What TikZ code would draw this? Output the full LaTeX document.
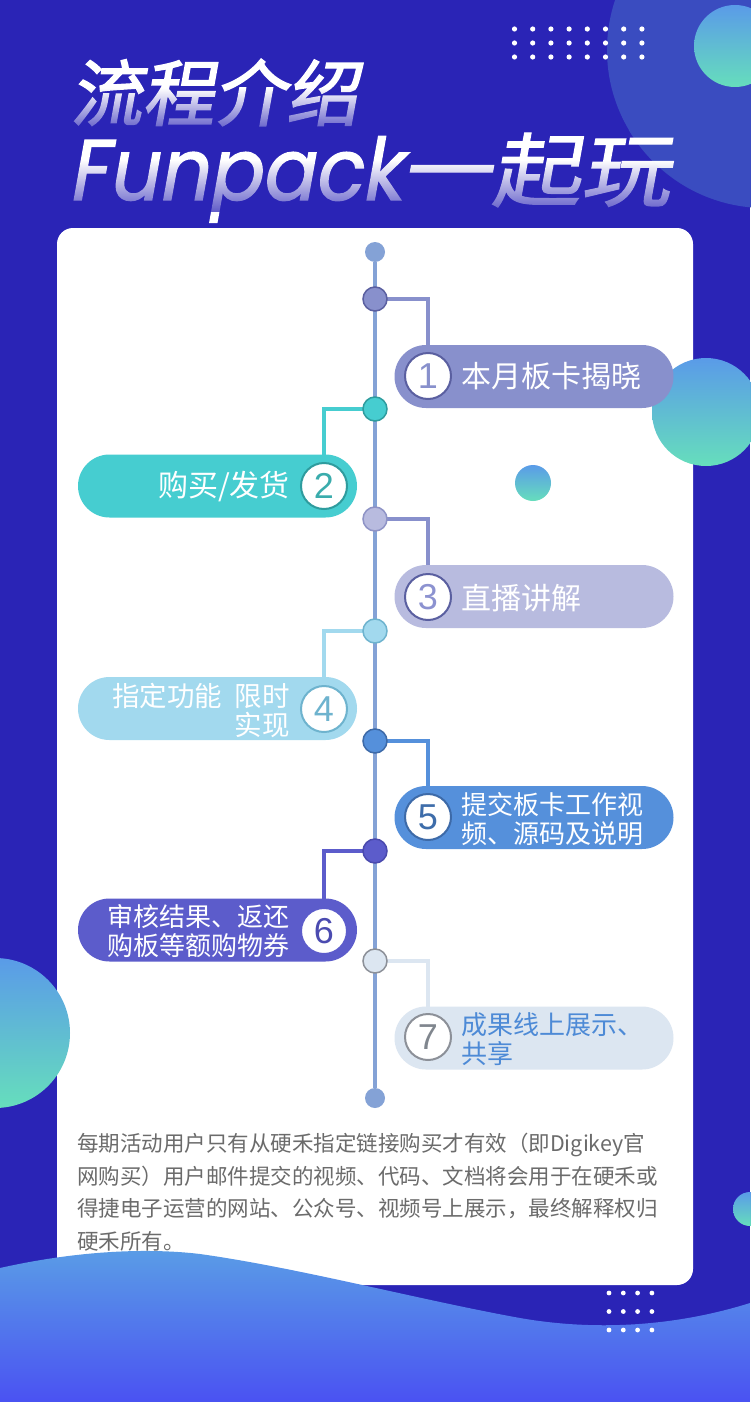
\documentclass[tikz,border=0pt]{standalone}
\usepackage{fontspec}
\usetikzlibrary{fadings}
\newfontfamily\cjk{Noto Sans CJK SC}
\newfontfamily\titlecjk{Noto Sans CJK SC}[FakeSlant=0.18, FakeBold=2]
\newfontfamily\titlecjkwide{Noto Sans CJK SC}[FakeSlant=0.18, FakeBold=1.5, FakeStretch=1.12]
\newfontfamily\titlelat{Poppins}[FakeSlant=0.18, FakeBold=1.5, FakeStretch=0.91]
\newfontfamily\numfont{Liberation Sans}
\definecolor{bg}{HTML}{2A24B6}
\definecolor{bigc}{HTML}{3A4CC0}
\definecolor{gA}{HTML}{5A9BE8}
\definecolor{gB}{HTML}{66DEBC}
\definecolor{waveA}{HTML}{5A9DE6}
\definecolor{waveB}{HTML}{4A52F2}
\definecolor{tl}{HTML}{84A2D6}
\definecolor{ftgray}{HTML}{6B6B6B}
% pill colours
\definecolor{pa}{HTML}{8890CC}
\definecolor{pb}{HTML}{46CDD0}
\definecolor{pc}{HTML}{B8BBDF}
\definecolor{pd}{HTML}{A2D9EE}
\definecolor{pe}{HTML}{5590DB}
\definecolor{pf}{HTML}{5C5CCB}
\definecolor{pg}{HTML}{DCE6F1}
% borders
\definecolor{ba}{HTML}{5A5FA0}
\definecolor{bb}{HTML}{2E9C9E}
\definecolor{bc}{HTML}{8E93C6}
\definecolor{bd}{HTML}{6EB3CE}
\definecolor{be}{HTML}{3D6AA8}
\definecolor{bf}{HTML}{4A4AAE}
\definecolor{bgg}{HTML}{8C9098}
% numbers
\definecolor{na}{HTML}{8890CC}
\definecolor{nb}{HTML}{3AACAC}
\definecolor{nc}{HTML}{8C92D0}
\definecolor{nd}{HTML}{6EB3CE}
\definecolor{ne}{HTML}{3E6DAA}
\definecolor{nf}{HTML}{4B4BB0}
\definecolor{ng}{HTML}{80868E}
\definecolor{tseven}{HTML}{4D8AD6}
\begin{document}
\begin{tikzpicture}[x=1pt,y=-1pt,
  linedot/.style={circle, inner sep=0, minimum size=24, line width=1.5},
  enddot/.style={circle, inner sep=0, minimum size=20, fill=tl},
  pillbox/.style={rectangle, rounded corners=31.5, minimum width=279, minimum height=63, inner sep=0},
  numc/.style={circle, fill=white, inner sep=0, minimum size=46, line width=2, font=\numfont\fontsize{36}{36}\selectfont},
  ptext/.style={inner sep=0, text=white, font=\cjk\fontsize{30}{32}\selectfont},
  ptexttwo/.style={inner sep=0, text=white, font=\cjk\fontsize{26}{28.5}\selectfont},
  conn/.style={line width=4},
  tline/.style={line width=4, draw=tl},
  foot/.style={anchor=base west, inner sep=0, text=ftgray, font=\cjk\fontsize{21.5}{21.5}\selectfont}]
\useasboundingbox (0,0) rectangle (750,1402);
\fill[bg] (0,0) rectangle (750,1402);
% big translucent circle
\fill[bigc] (765,50) circle[radius=158];
\shade[top color=gA, bottom color=gB] (735,46) circle[radius=41];
% top dot grid
\foreach \i in {0,...,7}
  \foreach \j in {0,1,2}
    \fill[white] (514.5+18.2*\i, 29+14*\j) circle[radius=2.6];
% title
\node[anchor=base west, inner sep=0, text=white, font=\titlecjk\fontsize{72}{72}\selectfont] (title1) at (70,120) {流程介绍};
\node[anchor=base west, inner sep=0, text=white] (title2) at (68,200) {{\titlelat\fontsize{86}{86}\selectfont Funpack}{\titlecjkwide\fontsize{80}{80}\selectfont 一起玩}};
% fades
\begin{scope}[even odd rule]
  \clip (0,0) rectangle (750,260) (765,50) circle[radius=158];
  \fill[bg, path fading=north, opacity=.75] (60,88) rectangle (720,130);
  \fill[bg, path fading=north, opacity=.75] (60,160) rectangle (720,212);
\end{scope}
\begin{scope}
  \clip (765,50) circle[radius=158];
  \fill[bigc, path fading=north, opacity=.75] (60,160) rectangle (720,212);
\end{scope}
% card
\fill[white, rounded corners=16] (57,228) rectangle (693,1285);
% decorative circles
\shade[top color=gA, bottom color=gB] (706,412) circle[radius=54];
\shade[top color=gA, bottom color=gB] (533,483) circle[radius=18];
\shade[top color=gA, bottom color=gB] (-5,1033) circle[radius=75];
\shade[top color=gA, bottom color=gB] (750,1209) circle[radius=17];
% wave
\shade[top color=waveA, bottom color=waveB]
  (0,1268) .. controls (80,1250) and (150,1248) .. (200,1254)
  .. controls (300,1268) and (420,1300) .. (520,1318)
  .. controls (600,1332) and (680,1325) .. (750,1303)
  -- (750,1402) -- (0,1402) -- cycle;
% bottom dot grid
\foreach \i in {0,...,3}
  \foreach \j in {0,1,2}
    \fill[white] (609+14.3*\i, 1293+18.5*\j) circle[radius=2.4];
% footer text
\node[foot] (f1) at (77,1151.5) {每期活动用户只有从硬禾指定链接购买才有效（即Digikey官};
\node[foot] (f2) at (77,1184) {网购买）用户邮件提交的视频、代码、文档将会用于在硬禾或};
\node[foot] (f3) at (77,1216.5) {得捷电子运营的网站、公众号、视频号上展示，最终解释权归};
\node[foot] (f4) at (77,1249) {硬禾所有。};
% timeline
\node[enddot] (top) at (375,252) {};
\node[enddot] (bot) at (375,1098) {};
\draw[tline] (top) -- (bot);
% nodes on the line (positions)
\coordinate (n1c) at (375,299);
\coordinate (n2c) at (375,409);
\coordinate (n3c) at (375,519);
\coordinate (n4c) at (375,631);
\coordinate (n5c) at (375,741);
\coordinate (n6c) at (375,851);
\coordinate (n7c) at (375,961);
% number circle positions
\coordinate (c1c) at (428,376);
\coordinate (c2c) at (324,486);
\coordinate (c3c) at (428,597);
\coordinate (c4c) at (324,709);
\coordinate (c5c) at (428,817);
\coordinate (c6c) at (324,931);
\coordinate (c7c) at (428,1037);
% connectors
\draw[conn, draw=pa] (n1c) -| (c1c);
\draw[conn, draw=pb] (n2c) -| (c2c);
\draw[conn, draw=pa] (n3c) -| (c3c);
\draw[conn, draw=pd] (n4c) -| (c4c);
\draw[conn, draw=pe] (n5c) -| (c5c);
\draw[conn, draw=pf] (n6c) -| (c6c);
\draw[conn, draw=pg] (n7c) -| (c7c);
% pills
\node[pillbox, fill=pa] (p1) at (534,376.5) {};
\node[pillbox, fill=pb] (p2) at (217.5,486) {};
\node[pillbox, fill=pc] (p3) at (534,596.5) {};
\node[pillbox, fill=pd] (p4) at (217.5,708.5) {};
\node[pillbox, fill=pe] (p5) at (534,817.5) {};
\node[pillbox, fill=pf] (p6) at (217.5,930) {};
\node[pillbox, fill=pg] (p7) at (534,1038) {};
\node[numc, draw=ba, text=na] (c1) at (c1c) {1};
\node[numc, draw=bb, text=nb] (c2) at (c2c) {2};
\node[numc, draw=ba, text=nc] (c3) at (c3c) {3};
\node[numc, draw=bd, text=nd] (c4) at (c4c) {4};
\node[numc, draw=be, text=ne] (c5) at (c5c) {5};
\node[numc, draw=pf, text=nf] (c6) at (c6c) {6};
\node[numc, draw=bgg, text=ng] (c7) at (c7c) {7};
\node[linedot, fill=pa, draw=ba] (n1) at (n1c) {};
\node[linedot, fill=pb, draw=bb] (n2) at (n2c) {};
\node[linedot, fill=pc, draw=bc] (n3) at (n3c) {};
\node[linedot, fill=pd, draw=bd] (n4) at (n4c) {};
\node[linedot, fill=pe, draw=be] (n5) at (n5c) {};
\node[linedot, fill=pf, draw=bf] (n6) at (n6c) {};
\node[linedot, fill=pg, draw=bgg] (n7) at (n7c) {};
% pill texts
\node[ptext, anchor=west] (t1) at (461,376) {本月板卡揭晓};
\node[ptext, anchor=east] (t2) at (290,487) {购买/发货};
\node[ptext, anchor=west] (t3) at (461,598) {直播讲解};
\node[ptexttwo, anchor=east, align=right, font=\cjk\fontsize{27.5}{29}\selectfont] (t4) at (290,710.5) {指定功能\hspace{0.45em}限时\\实现};
\node[ptexttwo, anchor=west, align=left] (t5) at (461,819) {提交板卡工作视\\频、源码及说明};
\node[ptexttwo, anchor=east, align=right] (t6) at (290,931) {审核结果、返还\\购板等额购物券};
\node[ptexttwo, anchor=west, align=left, text=tseven] (t7) at (461,1039) {成果线上展示、\\共享};
\end{tikzpicture}
\end{document}
